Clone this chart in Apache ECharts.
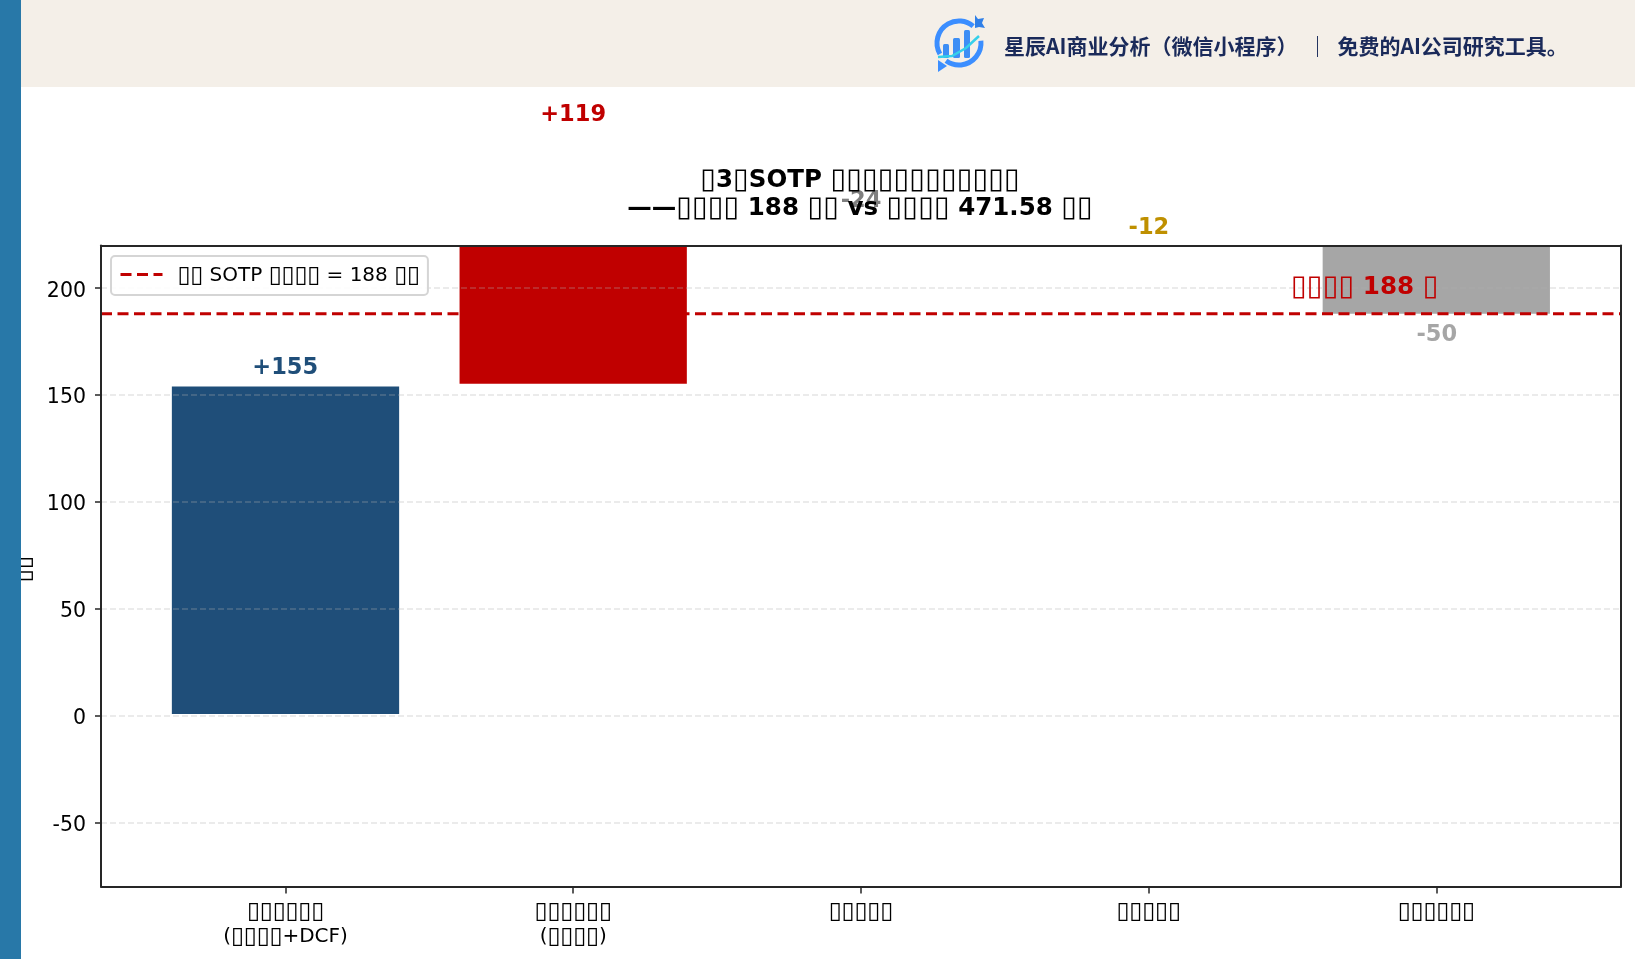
<!DOCTYPE html>
<html><head><meta charset="utf-8">
<style>html,body{margin:0;padding:0;background:#fff}#c{width:1635px;height:959px}</style>
<script src="https://cdn.jsdelivr.net/npm/echarts@6/dist/echarts.min.js"></script>
</head><body><div id="c"></div>
<script>
// Labels unreadable in the reference (rendered there as missing-glyph boxes) stay as boxes.
const categories = ['▯▯▯▯▯▯\n(▯▯▯▯+DCF)', '▯▯▯▯▯▯\n(▯▯▯▯)', '▯▯▯▯▯', '▯▯▯▯▯', '▯▯▯▯▯▯'];
const deltaLabels = ['+155', '+119', '-24', '-12', '-50'];
const barLow = [0.7, 155.3, 250, 238, 188];
const barHigh = [154, 274, 274, 250, 238];
const labelY = [162.5, 281, 240.6, 228, 178];
const barColors = ['#1f4e79', '#c00000', '#7f7f7f', '#bf9000', '#a6a6a6'];
const yTicks = [-50, 0, 50, 100, 150, 200];
const targetValue = 188;
const targetLineName = '▯▯ SOTP ▯▯▯▯ = 188 ▯▯';
const targetNote = '▯▯▯▯ 188 ▯';
const targetNotePos = [3.75, 200.5];
const titleText = '▯3▯SOTP ▯▯▯▯▯▯▯▯▯▯▯▯\n——▯▯▯▯ 188 ▯▯ vs ▯▯▯▯ 471.58 ▯▯';
const yName = '▯▯';
const headerText = '星辰AI商业分析（微信小程序）  ｜  免费的AI公司研究工具。';
const xMin = -0.64, xMax = 4.64, yMin = -80, yMax = 220;

const F = 'DejaVu Sans';
const box = s => s.replace(/▯+/g, m => '{t|' + m + '}');
const rich = (size, weight, color, lh) => ({ t: Object.assign({ fontFamily: F, fontSize: size * 1.17, fontWeight: weight, color: color }, lh ? { lineHeight: lh } : {}) });

const chart = echarts.init(document.getElementById('c'), null, { renderer: 'canvas' });
const labelData = deltaLabels.map((l, i) => ({
  value: [i, labelY[i]],
  label: { formatter: l, color: barColors[i], fontSize: 22.5, fontWeight: 'bold', fontFamily: F }
}));
labelData.push({
  value: targetNotePos,
  label: { formatter: box(targetNote), color: '#c00000', fontSize: 24.6, fontWeight: 'bold', fontFamily: F, rich: rich(24.6, 'bold', '#c00000') }
});
const frameLine = { show: true, onZero: false, lineStyle: { color: '#262626', width: 2 } };

chart.setOption({
  animation: false,
  backgroundColor: '#fff',
  textStyle: { fontFamily: F },
  grid: [
    { left: 101, right: 14, top: 245.5, bottom: 72.5 },
    { left: 141.65, width: 1438.5, top: 245.5, bottom: 72.5 }
  ],
  title: {
    text: box(titleText), left: 860, top: 167, textAlign: 'center', padding: 0, z: 8,
    textStyle: { fontFamily: F, fontSize: 24.5, fontWeight: 'bold', color: '#000', lineHeight: 28, rich: rich(24.5, 'bold', '#000', 28) }
  },
  legend: {
    data: [targetLineName], left: 111, top: 256, padding: [8, 8, 8, 8], z: 20,
    itemWidth: 42, itemHeight: 14, itemGap: 0,
    backgroundColor: 'rgba(255,255,255,0.9)', borderColor: '#d5d5d5', borderWidth: 2, borderRadius: 4,
    itemStyle: { opacity: 0 }, lineStyle: { width: 3 },
    formatter: n => box(n),
    textStyle: { fontFamily: F, fontSize: 20, color: '#000', padding: [2, 0, 0, 10], rich: rich(20, 'normal', '#000') }
  },
  xAxis: [{
    gridIndex: 1, type: 'category', data: categories, z: 10, splitLine: { show: false },
    axisLine: { show: false, onZero: false },
    axisTick: { show: true, alignWithLabel: true, length: 7, lineStyle: { color: '#262626', width: 1.5 } },
    axisLabel: { interval: 0, margin: 13, color: '#000', fontFamily: F, fontSize: 20, lineHeight: 25, formatter: v => box(v), rich: rich(20, 'normal', '#000', 25) }
  }, {
    gridIndex: 0, type: 'value', min: xMin, max: xMax, z: 10, splitLine: { show: false },
    axisLine: frameLine, axisTick: { show: false }, axisLabel: { show: false }
  }, {
    gridIndex: 0, type: 'value', position: 'top', min: xMin, max: xMax, z: 10, splitLine: { show: false },
    axisLine: frameLine, axisTick: { show: false }, axisLabel: { show: false }
  }],
  yAxis: [{
    gridIndex: 1, type: 'value', min: yMin, max: yMax, show: false
  }, {
    gridIndex: 0, type: 'value', min: yMin, max: yMax, interval: 10, z: 10, splitLine: { show: false },
    name: box(yName), nameLocation: 'middle', nameGap: 63, nameRotate: 90,
    nameTextStyle: { fontFamily: F, fontSize: 20.5, color: '#000', padding: [0, 6, 0, 0], rich: rich(20.5, 'normal', '#000') },
    axisLine: frameLine,
    axisTick: { show: true, length: 6, customValues: yTicks, lineStyle: { color: '#262626', width: 1.5 } },
    axisLabel: { customValues: yTicks, margin: 15, color: '#000', fontFamily: F, fontSize: 20.5, verticalAlign: 'top', lineHeight: 6 }
  }, {
    gridIndex: 0, type: 'value', position: 'right', min: yMin, max: yMax, z: 10, splitLine: { show: false },
    axisLine: frameLine, axisTick: { show: false }, axisLabel: { show: false }
  }],
  series: [
    { type: 'bar', name: 'base', xAxisIndex: 0, yAxisIndex: 0, stack: 'w', barWidth: '79%', z: 2, silent: true,
      itemStyle: { color: 'transparent' }, data: barLow },
    { type: 'bar', name: 'delta', xAxisIndex: 0, yAxisIndex: 0, stack: 'w', barWidth: '79%', z: 2, silent: true,
      data: barHigh.map((v, i) => ({ value: v - barLow[i], itemStyle: { color: barColors[i] } })) },
    { type: 'line', name: 'grid', xAxisIndex: 1, yAxisIndex: 1, z: 3, silent: true, symbol: 'none', data: [],
      markLine: { silent: true, symbol: 'none', z: 3, animation: false, label: { show: false },
        lineStyle: { color: 'rgba(176,176,176,0.25)', width: 2, type: [6, 3] },
        data: yTicks.map(v => ({ yAxis: v })) } },
    { type: 'line', name: targetLineName, xAxisIndex: 1, yAxisIndex: 1, z: 5, silent: true, symbol: 'none',
      lineStyle: { color: '#c00000', width: 3, type: [11, 5.5] }, itemStyle: { color: '#c00000' },
      data: [[xMin, targetValue], [xMax, targetValue]] },
    { type: 'scatter', name: 'labels', xAxisIndex: 1, yAxisIndex: 1, z: 7, silent: true, clip: false, symbolSize: 1,
      itemStyle: { color: 'transparent', opacity: 1 },
      label: { show: true, position: 'inside' },
      data: labelData }
  ],
  graphic: [
    { type: 'rect', z: 100, shape: { x: 0, y: 0, width: 21, height: 959 }, style: { fill: '#2878a8' } },
    { type: 'rect', z: 100, shape: { x: 21, y: 0, width: 1614, height: 87 }, style: { fill: '#f4efe8' } },
    { type: 'arc', z: 101, shape: { cx: 959, cy: 43, r: 22, startAngle: 2.62, endAngle: 5.41, clockwise: true }, style: { stroke: '#3b8eff', lineWidth: 5, fill: null } },
    { type: 'arc', z: 101, shape: { cx: 959, cy: 43, r: 22, startAngle: -0.1, endAngle: 2.2, clockwise: true }, style: { stroke: '#3b8eff', lineWidth: 5, fill: null } },
    { type: 'rect', z: 101, shape: { x: 943, y: 44, width: 6, height: 14, r: 1.5 }, style: { fill: '#3d8ef5' } },
    { type: 'rect', z: 101, shape: { x: 953, y: 38, width: 7, height: 20, r: 1.5 }, style: { fill: '#3d8ef5' } },
    { type: 'rect', z: 101, shape: { x: 964, y: 30, width: 6, height: 28, r: 1.5 }, style: { fill: '#3d8ef5' } },
    { type: 'polyline', z: 102, shape: { points: [[938, 57], [952, 56], [966, 48], [979, 36]] }, style: { stroke: '#35d0ea', lineWidth: 2.5, fill: null } },
    { type: 'polygon', z: 101, shape: { points: [[975, 15], [978, 19], [984, 18], [982, 23], [985, 28], [979, 27], [975, 28]] }, style: { fill: '#2f7fe8' } },
    { type: 'polygon', z: 101, shape: { points: [[938, 60], [947, 66], [938, 72]] }, style: { fill: '#3b8eff' } },
    { type: 'text', z: 101, x: 1004, y: 46, style: { text: headerText, fontFamily: 'Noto Sans CJK SC', fontSize: 21, fontWeight: 'bold', fill: '#1a2a5a', verticalAlign: 'middle', align: 'left' } }
  ]
});
</script></body></html>
